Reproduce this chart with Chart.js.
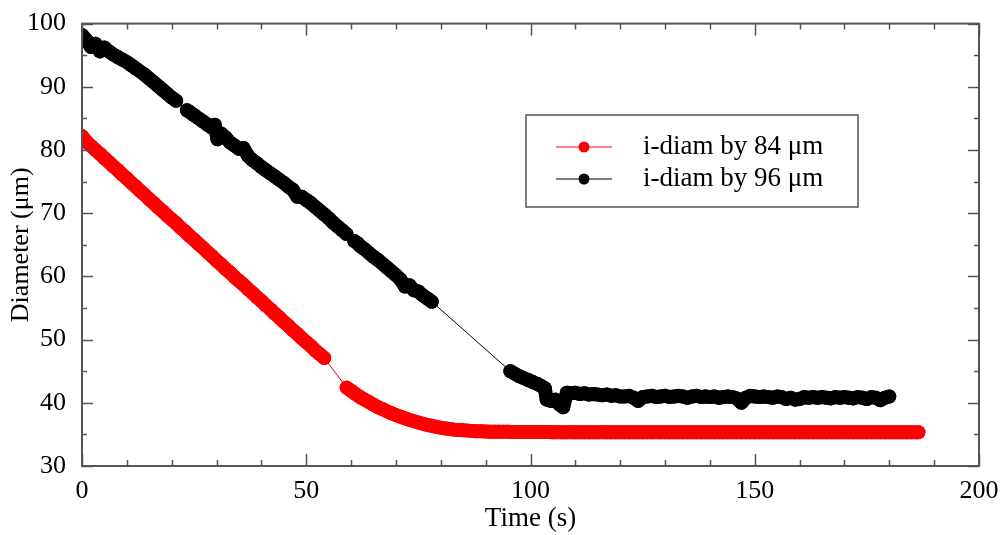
<!DOCTYPE html>
<html lang="en">
<head>
  <meta charset="UTF-8">
  <title>Diameter vs time</title>
  <style>
    *{box-sizing:border-box;margin:0;padding:0}
    body{background:#fff;}
    .wrap{width:1003px;height:535px;position:relative;}
  </style>
</head>
<body>
  <div class="wrap"><canvas id="chart"></canvas></div>

  <script src="https://cdn.jsdelivr.net/npm/chart.js"></script>
  <script>
    // ---- data ----
    const redLabel = 'i-diam by 84 \u03bcm';
    const blackLabel = 'i-diam by 96 \u03bcm';

    const redTime = [
      0,1,2,3,4,5,6,7,8,9,
      10,11,12,13,14,15,16,17,18,19,
      20,21,22,23,24,25,26,27,28,29,
      30,31,32,33,34,35,36,37,38,39,
      40,41,42,43,44,45,46,47,48,49,
      50,51,52,53,54,
      59,60,61,62,63,64,65,66,67,68,69,
      70,71,72,73,74,75,76,77,78,79,
      80,81,82,83,84,85,86,87,88,89,
      90,91,92,93,94,95,96,97,98,99,
      100,101,102,103,104,105,106,107,108,109,110,
      111,112,113,114,115,116,117,118,119,120,
      121,122,123,124,125,126,127,128,129,130,
      131,132,133,134,135,136,137,138,139,140,
      141,142,143,144,145,146,147,148,149,150,
      151,152,153,154,155,156,157,158,159,160,
      161,162,163,164,165,166,167,168,169,170,
      171,172,173,174,175,176,177,178,179,180,
      181,182,183,184,185,186,186.5
    ];
    const redDiam = [
      82.2,81.3,80.65,80.0,79.4,78.7,78.1,77.4,76.8,76.1,
      75.5,74.8,74.2,73.5,72.9,72.2,71.6,70.9,70.3,69.6,
      69.0,68.4,67.7,67.1,66.4,65.8,65.1,64.5,63.8,63.2,
      62.5,61.9,61.2,60.6,59.9,59.3,58.7,58.0,57.4,56.7,
      56.1,55.4,54.8,54.1,53.5,52.8,52.2,51.5,50.9,50.2,
      49.6,49.0,48.3,47.7,47.1,
      42.4,41.9,41.4,40.9,40.5,40.1,39.7,39.3,39.0,38.65,38.35,
      38.05,37.8,37.55,37.3,37.1,36.9,36.7,36.5,36.35,36.2,
      36.05,35.95,35.85,35.75,35.7,35.65,35.6,35.55,35.5,35.48,
      35.45,35.43,35.42,35.41,35.40,35.40,35.39,35.38,35.38,35.37,
      35.37,35.37,35.36,35.36,35.36,35.35,35.36,35.35,35.35,35.36,35.35,
      35.35,35.35,35.34,35.35,35.35,35.36,35.35,35.35,35.34,35.35,
      35.35,35.35,35.35,35.34,35.35,35.35,35.35,35.36,35.35,35.35,
      35.34,35.35,35.35,35.35,35.35,35.34,35.35,35.35,35.35,35.35,
      35.35,35.34,35.35,35.35,35.35,35.35,35.34,35.35,35.35,35.35,
      35.35,35.35,35.34,35.35,35.35,35.35,35.35,35.34,35.35,35.35,
      35.35,35.35,35.35,35.34,35.35,35.35,35.35,35.35,35.34,35.35,
      35.35,35.35,35.35,35.35,35.34,35.35,35.35,35.35,35.35,35.35,
      35.34,35.35,35.35,35.35,35.35,35.35,35.35
    ];

    const blackTime = [
      0,1,2,3,4,5,6,7,8,9,
      10,11,12,13,14,15,16,17,18,19,
      20,21,23.4,24,25,26,27,28,29,29.6,
      30.2,31,32,33,34,35,36,37,38,39,
      40,41,42,43,44,45,46,47,48,49,
      50,51,52,53,54,55,56,57,58,59,
      60.7,61.5,62,63,64,65,66,67,68,69,
      70,71,72,73,74,75,76,77,78,
      95.5,96.5,97.5,98.5,99.5,100.5,101.5,102.5,103.2,103.6,
      104.5,105.5,106.5,107.3,108.1,
      109,110,111,112,113,114,115,116,117,118,119,120,
      121,122,123,124,125,126,127,128,129,130,
      131,132,133,134,135,136,137,138,139,140,
      141,142,143,144,145,146,147,148,149,150,
      151,152,153,154,155,156,157,158,159,160,
      161,162,163,164,165,166,167,168,169,170,
      171,172,173,174,175,176,177,178,179,180
    ];
    const blackDiam = [
      98.2,97.4,96.3,96.8,95.6,96.2,95.6,95.1,94.7,94.3,
      93.9,93.4,92.9,92.4,91.9,91.3,90.7,90.1,89.5,88.9,
      88.3,87.8,86.3,86.0,85.5,85.0,84.5,84.0,83.5,84.0,
      81.7,82.6,82.0,81.2,80.7,80.2,80.3,79.1,78.4,77.9,
      77.3,76.8,76.3,75.8,75.3,74.8,74.2,73.7,72.6,72.6,
      72.1,71.6,71.0,70.4,69.8,69.2,68.5,67.9,67.3,66.7,
      65.6,65.2,64.8,64.3,63.7,63.1,62.6,62.0,61.4,60.8,
      60.2,59.5,58.4,58.6,57.8,57.6,57.0,56.5,56.0,
      45.0,44.6,44.2,43.9,43.6,43.3,43.0,42.6,42.3,40.5,
      40.3,40.5,39.7,39.3,41.6,
      41.5,41.6,41.4,41.5,41.3,41.4,41.3,41.2,41.3,41.1,41.2,41.0,
      41.0,41.1,40.8,40.3,40.9,41.0,41.1,40.9,41.0,41.1,
      40.9,41.0,41.1,41.0,40.8,41.0,41.1,40.9,41.0,40.9,
      41.0,40.8,40.9,41.0,40.9,40.7,40.0,40.8,41.1,41.0,
      40.9,41.0,40.9,40.8,41.0,40.9,40.6,40.8,40.5,40.6,
      40.9,40.8,40.9,40.8,40.9,40.8,40.7,40.9,40.8,40.9,
      40.8,40.7,40.9,40.8,40.6,40.9,40.8,40.4,40.8,41.0
    ];

    const xTickValues = [0,10,20,30,40,50,60,70,80,90,100,110,120,130,140,150,160,170,180,190,200];
    const yTickValues = [30,35,40,45,50,55,60,65,70,75,80,85,90,95,100];
    const xMajor = [0,50,100,150,200];
    const yMajor = [30,40,50,60,70,80,90,100];

    function pairs(xs, ys){
      const n = Math.min(xs.length, ys.length);
      if (xs.length !== ys.length) console.warn('length mismatch', xs.length, ys.length);
      const out = [];
      for (let i = 0; i < n; i++) out.push({x: xs[i], y: ys[i]});
      return out;
    }

    const serif = "'Liberation Serif', 'DejaVu Serif', serif";
    const markerR = 7;

    // dense runs of samples merge into one solid band, gaps keep the thin joining line
    const bandWidth = ctx => (ctx.p1.parsed.x - ctx.p0.parsed.x) > 1.5 ? 1 : markerR * 2;

    // frame + inward ticks on all four sides
    const frameTicks = {
      id: 'frameTicks',
      afterDatasetsDraw(chart){
        const {ctx, chartArea: a, scales: {x, y}} = chart;
        ctx.save();
        ctx.strokeStyle = '#555';
        ctx.lineWidth = 1.5;
        ctx.beginPath();
        xTickValues.forEach(v => {
          const px = Math.round(x.getPixelForValue(v)) + 0.5;
          const len = xMajor.includes(v) ? 12 : 6;
          ctx.moveTo(px, a.bottom); ctx.lineTo(px, a.bottom - len);
          ctx.moveTo(px, a.top); ctx.lineTo(px, a.top + len);
        });
        yTickValues.forEach(v => {
          const py = Math.round(y.getPixelForValue(v)) + 0.5;
          const len = yMajor.includes(v) ? 11 : 5;
          ctx.moveTo(a.left, py); ctx.lineTo(a.left + len, py);
          ctx.moveTo(a.right, py); ctx.lineTo(a.right - len, py);
        });
        ctx.stroke();
        ctx.lineWidth = 2;
        ctx.strokeRect(a.left, a.top, a.right - a.left, a.bottom - a.top);
        ctx.restore();
      }
    };

    // boxed legend inside the plot
    const boxLegend = {
      id: 'boxLegend',
      afterDraw(chart){
        const {ctx} = chart;
        const box = {x: 526, y: 115, w: 332, h: 92};
        ctx.save();
        ctx.fillStyle = '#fff';
        ctx.fillRect(box.x, box.y, box.w, box.h);
        ctx.strokeStyle = '#555';
        ctx.lineWidth = 1.5;
        ctx.strokeRect(box.x, box.y, box.w, box.h);
        chart.data.datasets.forEach((ds, i) => {
          const cy = 147 + i * 32;
          ctx.strokeStyle = ds.borderColor;
          ctx.lineWidth = 1;
          ctx.beginPath();
          ctx.moveTo(556, cy); ctx.lineTo(612, cy);
          ctx.stroke();
          ctx.fillStyle = ds.backgroundColor;
          ctx.beginPath();
          ctx.arc(584, cy, 5.5, 0, Math.PI * 2);
          ctx.fill();
          ctx.fillStyle = '#000';
          ctx.font = '27px ' + serif;
          ctx.textBaseline = 'middle';
          ctx.textAlign = 'left';
          ctx.fillText(ds.label, 643, cy);
        });
        ctx.restore();
      }
    };

    const seriesStyle = color => ({
      showLine: true, borderColor: color, backgroundColor: color, borderWidth: 1,
      borderCapStyle: 'round', borderJoinStyle: 'round',
      segment: {borderWidth: bandWidth},
      pointRadius: markerR, pointBorderWidth: 0, pointHoverRadius: markerR
    });

    new Chart(document.getElementById('chart'), {
      type: 'scatter',
      data: {
        datasets: [
          Object.assign({label: redLabel, data: pairs(redTime, redDiam)}, seriesStyle('#ff0000')),
          Object.assign({label: blackLabel, data: pairs(blackTime, blackDiam)}, seriesStyle('#000000'))
        ]
      },
      options: {
        responsive: true,
        maintainAspectRatio: false,
        animation: false,
        layout: {padding: {top: 19, right: 24, left: 0, bottom: 0}},
        plugins: {legend: {display: false}, tooltip: {enabled: false}},
        scales: {
          x: {
            type: 'linear', min: 0, max: 200,
            grid: {display: false}, border: {display: false},
            ticks: {stepSize: 50, padding: 2, color: '#000', font: {family: serif, size: 26}},
            title: {display: true, text: 'Time (s)', color: '#000', padding: {top: 0, bottom: 0},
                    font: {family: serif, size: 27}},
            afterFit(s){ s.height = 69; }
          },
          y: {
            type: 'linear', min: 30, max: 100,
            grid: {display: false}, border: {display: false},
            ticks: {stepSize: 10, padding: 8, color: '#000', font: {family: serif, size: 26}},
            title: {display: true, text: 'Diameter (\u03bcm)', color: '#000', padding: {top: 6, bottom: 0},
                    font: {family: serif, size: 26}},
            afterFit(s){ s.width = 82; }
          }
        }
      },
      plugins: [frameTicks, boxLegend]
    });
  </script>
</body>
</html>
